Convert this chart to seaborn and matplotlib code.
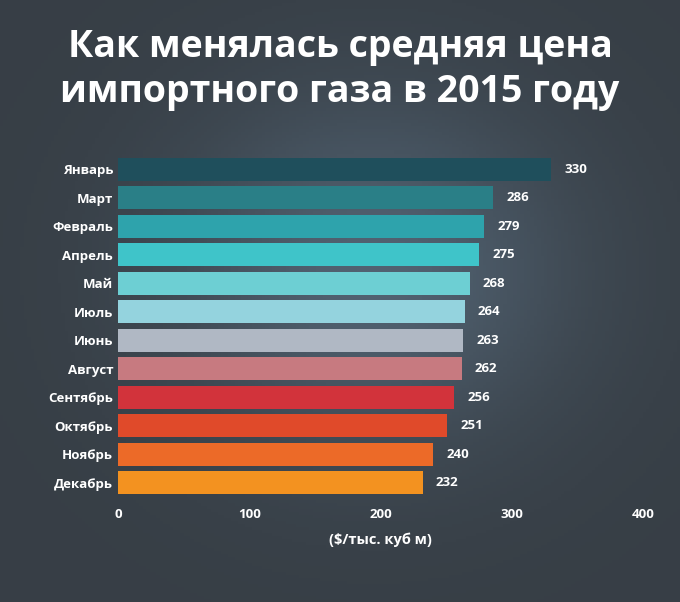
import numpy as np
import pandas as pd
import matplotlib.pyplot as plt
import seaborn as sns

months = ["Январь", "Март", "Февраль", "Апрель", "Май", "Июль", "Июнь",
          "Август", "Сентябрь", "Октябрь", "Ноябрь", "Декабрь"]
prices = [330, 286, 279, 275, 268, 264, 263, 262, 256, 251, 240, 232]
colors = ["#1f4f5c", "#2a7f87", "#2ea3ac", "#3fc4c9", "#6dcfd3", "#94d3de",
          "#b0b8c4", "#c77a80", "#d2333b", "#e04a2a", "#ec6a28", "#f39220"]

df = pd.DataFrame({"month": months, "price": prices})

fig = plt.figure(figsize=(6.8, 6.02), dpi=100)
# dark background standing in for the photo
bg = fig.add_axes([0, 0, 1, 1], zorder=-1)
yy, xx = np.mgrid[0:1:200j, 0:1:200j]
grad = 0.25 + 0.35 * np.exp(-((xx - 0.55) ** 2 + (yy - 0.45) ** 2) / 0.08)
bg.imshow(grad, cmap=sns.dark_palette("#6f8aa3", as_cmap=True), aspect="auto",
          extent=[0, 1, 0, 1], vmin=0, vmax=1)
bg.axis("off")

ax = fig.add_axes([118 / 680, 1 - 497 / 602, (643 - 118) / 680, (497 - 155) / 602])
ax.patch.set_alpha(0)
sns.barplot(data=df, x="price", y="month", hue="month", palette=colors,
            legend=False, width=0.8, saturation=1, ax=ax)
ax.set_xlim(0, 400)
for i, v in enumerate(prices):
    ax.text(v + 10, i, str(v), color="white", fontsize=9.5, fontweight="bold",
            va="center", ha="left", family="Open Sans")
ax.set_xticks([0, 100, 200, 300, 400])
ax.tick_params(colors="white", length=0, labelsize=9.5)
ax.tick_params(axis="x", pad=8)
for lbl in ax.get_xticklabels() + ax.get_yticklabels():
    lbl.set_fontweight("bold")
    lbl.set_family("Open Sans")
ax.set_ylabel("")
ax.set_xlabel("($/тыс. куб м)", color="white", fontsize=10.5, fontweight="bold",
              family="Open Sans", labelpad=8)
for s in ax.spines.values():
    s.set_visible(False)

fig.text(0.5, 0.885, "Как менялась средняя цена\nимпортного газа в 2015 году",
         color="white", fontsize=27, fontweight="bold", ha="center", va="center",
         family="Open Sans", linespacing=1.25)

fig.savefig("out.png", dpi=100)
